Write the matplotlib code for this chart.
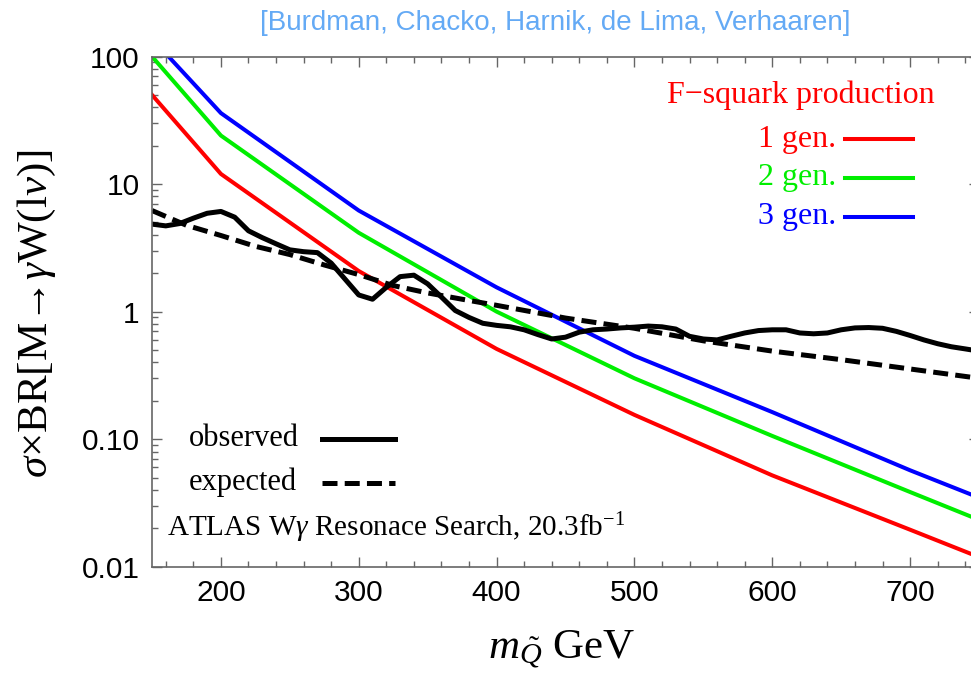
import matplotlib
matplotlib.use("Agg")
import matplotlib.pyplot as plt
from matplotlib.ticker import FixedLocator, FixedFormatter, NullFormatter
from matplotlib.lines import Line2D

plt.rcParams['mathtext.fontset'] = 'custom'
plt.rcParams['mathtext.rm'] = 'Liberation Serif'
plt.rcParams['mathtext.it'] = 'Liberation Serif:italic'
plt.rcParams['mathtext.bf'] = 'Liberation Serif:bold'
plt.rcParams['lines.scale_dashes'] = False

# F-squark production cross sections (pb) versus mass (GeV)
mass_theory = [150, 200, 300, 400, 500, 600, 700, 750]
gen1 = [50, 12, 2.08, 0.51, 0.155, 0.052, 0.0195, 0.0119]
gen2 = [100, 24, 4.15, 1.0, 0.30, 0.106, 0.0385, 0.0233]
gen3 = [138, 36, 6.2, 1.55, 0.45, 0.163, 0.057, 0.0348]

# ATLAS W-gamma resonance search limits
mass_obs = list(range(150, 751, 10))
observed = [4.85, 4.7, 4.9, 5.4, 5.9, 6.1, 5.5, 4.3, 3.8, 3.4,
            3.05, 2.95, 2.9, 2.4, 1.8, 1.35, 1.25, 1.55, 1.88, 1.93,
            1.65, 1.3, 1.02, 0.9, 0.81, 0.78, 0.76, 0.72, 0.66, 0.61,
            0.63, 0.69, 0.72, 0.73, 0.745, 0.755, 0.77, 0.76, 0.73, 0.64,
            0.61, 0.60, 0.64, 0.68, 0.71, 0.72, 0.72, 0.68, 0.67, 0.68,
            0.72, 0.745, 0.75, 0.74, 0.70, 0.65, 0.60, 0.56, 0.53, 0.51,
            0.49]
mass_exp = [150, 175, 200, 225, 250, 275, 300, 325, 350, 375, 400,
            450, 500, 550, 600, 650, 700, 750]
expected = [6.2, 4.75, 3.95, 3.25, 2.8, 2.32, 1.95, 1.6, 1.4, 1.25, 1.12,
            0.89, 0.74, 0.59, 0.49, 0.42, 0.355, 0.30]

y_ticks = [0.01, 0.1, 1, 10, 100]
y_tick_labels = ["0.01", "0.10", "1", "10", "100"]
x_ticks = [200, 300, 400, 500, 600, 700]
x_tick_labels = ["200", "300", "400", "500", "600", "700"]

W, H = 971, 697
fig = plt.figure(figsize=(W / 100, H / 100), dpi=100)
ax = fig.add_axes([152 / W, 1 - 566.7 / H, (979 - 152) / W, (566.7 - 56.5) / H])
ax.set_xscale('linear')
ax.set_yscale('log')
ax.set_xlim(150, 750)
ax.set_ylim(0.01, 100)

lw_c = 2.9
ax.plot(mass_theory, gen1, color='#FF0000', lw=lw_c, solid_joinstyle='round')
ax.plot(mass_theory, gen2, color='#00EE00', lw=lw_c, solid_joinstyle='round')
ax.plot(mass_theory, gen3, color='#0000FF', lw=lw_c, solid_joinstyle='round')
ax.plot(mass_obs, observed, color='black', lw=3.6, solid_joinstyle='round')
ax.plot(mass_exp, expected, color='black', lw=3.6, dashes=[10.8, 5.2])

# frame and ticks
frame_c = '#666666'
for s in ax.spines.values():
    s.set_color(frame_c)
    s.set_linewidth(1.2)
ax.xaxis.set_major_locator(FixedLocator(x_ticks))
ax.xaxis.set_major_formatter(FixedFormatter(x_tick_labels))
ax.xaxis.set_minor_locator(FixedLocator(list(range(160, 751, 20))))
ax.xaxis.set_minor_formatter(NullFormatter())
ax.yaxis.set_major_locator(FixedLocator(y_ticks))
ax.yaxis.set_major_formatter(FixedFormatter(y_tick_labels))
minors = [m * 10.0 ** e for e in range(-2, 2) for m in range(2, 10)]
ax.yaxis.set_minor_locator(FixedLocator(minors))
ax.yaxis.set_minor_formatter(NullFormatter())
ax.tick_params(which='both', direction='in', top=True, right=True,
               color=frame_c, width=1.0)
ax.tick_params(which='major', length=7)
ax.tick_params(which='minor', length=4)
ax.tick_params(axis='x', which='major', pad=9)
ax.tick_params(axis='y', which='major', pad=9)
for lab in ax.get_xticklabels() + ax.get_yticklabels():
    lab.set_fontfamily('Liberation Sans')
    lab.set_fontsize(21.5)
    lab.set_color('black')

serif = 'Liberation Serif'
fig.text(37 / W, 1 - 314 / H, r'$\sigma$×BR[M→$\gamma$W(l$\nu$)]', fontsize=31,
         family=[serif, 'DejaVu Serif'], rotation=90, ha='center', va='center')

fig.text(562 / W, 1 - 658 / H, r'$m_{\tilde{Q}}$ GeV', fontsize=31,
         family=serif, ha='center', va='baseline')

fig.text(555 / W, 1 - 23 / H, '[Burdman, Chacko, Harnik, de Lima, Verhaaren]',
         fontsize=20, family='Liberation Sans', color='#64AAF5',
         ha='center', va='center')

# generation key
red, green, blue = '#FF0000', '#00EE00', '#0000FF'
fig.text(935 / W, 1 - 95 / H, 'F−squark production', fontsize=23,
         family=serif, color=red, ha='right', va='center')
for txt, col, yc in [('1 gen.', red, 139), ('2 gen.', green, 178), ('3 gen.', blue, 217)]:
    fig.text(836 / W, 1 - yc / H, txt, fontsize=23, family=serif,
             color=col, ha='right', va='center')
    fig.add_artist(Line2D([845 / W, 913 / W], [1 - yc / H, 1 - yc / H],
                          color=col, lw=lw_c))

# limit key
fig.text(189 / W, 1 - 438 / H, 'observed', fontsize=22, family=serif,
         ha='left', va='center')
fig.add_artist(Line2D([322 / W, 395 / W], [1 - 439 / H, 1 - 439 / H],
                      color='black', lw=3.6))
fig.text(189 / W, 1 - 482 / H, 'expected', fontsize=22, family=serif,
         ha='left', va='center')
fig.add_artist(Line2D([322 / W, 395 / W], [1 - 483 / H, 1 - 483 / H],
                      color='black', lw=3.6, dashes=[10.8, 5.2]))
fig.text(167 / W, 1 - 528 / H,
         r'ATLAS W$\gamma$ Resonace Search, 20.3fb$^{-1}$',
         fontsize=21, family=serif, ha='left', va='center')

fig.savefig('out.png', dpi=100)
